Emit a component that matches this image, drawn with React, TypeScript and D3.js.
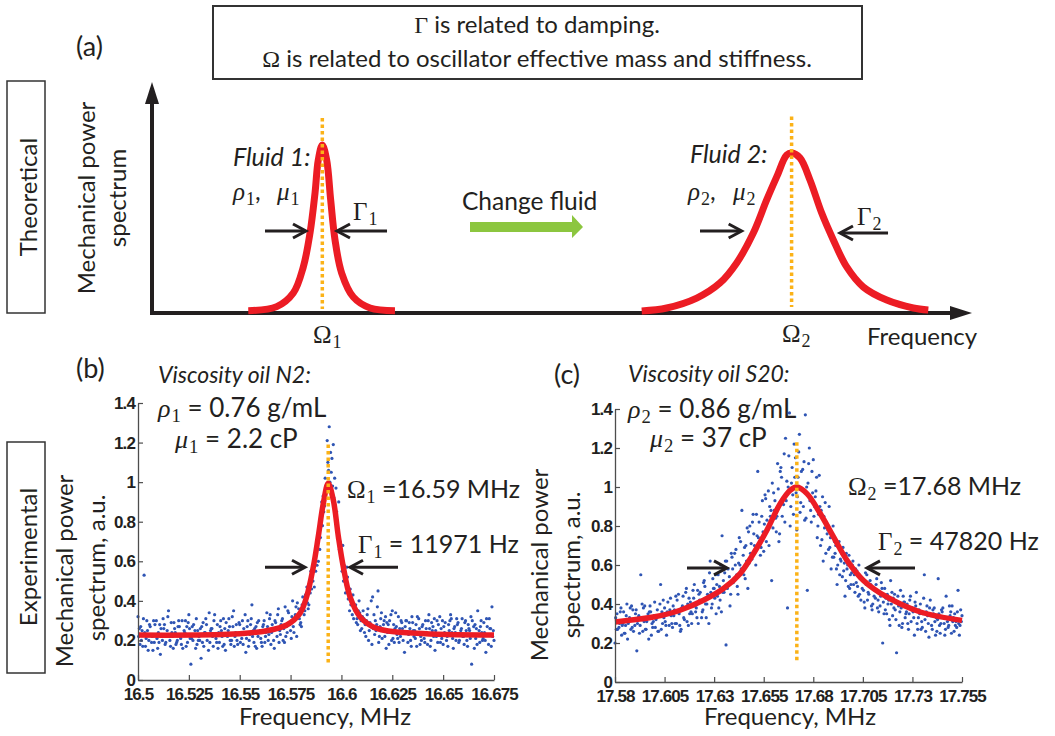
import React, { useEffect, useRef } from "react";
import * as d3 from "d3";

// schematic spectra for panel (a): [frequency (arb.), power (arb.)]
const fluid1Curve = [
  [11.74, 0.014], [15.21, 0.038], [17.23, 0.119], [18.45, 0.274], [19.27, 0.476],
  [19.88, 0.714], [20.28, 0.911], [20.77, 1.0], [21.3, 0.911], [21.79, 0.673],
  [22.32, 0.435], [23.13, 0.238], [24.55, 0.095], [26.59, 0.03], [29.63, 0.014],
];
const fluid2Curve = [
  [59.72, 0.012], [62.77, 0.03], [66.43, 0.089], [69.27, 0.179], [71.3, 0.298],
  [73.33, 0.476], [74.96, 0.673], [76.18, 0.81], [77.4, 0.94], [78.01, 0.952],
  [79.02, 0.923], [80.24, 0.792], [81.67, 0.595], [83.09, 0.435], [84.72, 0.274],
  [86.74, 0.155], [89.6, 0.077], [92.84, 0.03], [94.67, 0.018],
];
const fluid1Centre = 20.77;
const fluid2Centre = 78.0;

// lorentzian fits (b) and (c): [MHz, a.u.]
const fitN2 = [
  [16.5, 0.227], [16.5468, 0.232], [16.5633, 0.249], [16.5731, 0.278], [16.5796, 0.337],
  [16.5829, 0.421], [16.5862, 0.573], [16.5886, 0.724], [16.5911, 0.893], [16.5935, 0.994],
  [16.596, 0.91], [16.5985, 0.724], [16.6009, 0.573], [16.6042, 0.421], [16.6091, 0.32],
  [16.6173, 0.261], [16.637, 0.236], [16.675, 0.227],
];
const fitS20 = [
  [17.58, 0.308], [17.5993, 0.333], [17.6128, 0.368], [17.6246, 0.419], [17.6347, 0.479],
  [17.6431, 0.556], [17.6498, 0.658], [17.6566, 0.778], [17.6633, 0.915], [17.6683, 0.983],
  [17.6717, 1.0], [17.6768, 0.966], [17.6835, 0.864], [17.6902, 0.744], [17.697, 0.624],
  [17.7053, 0.521], [17.7171, 0.436], [17.734, 0.359], [17.755, 0.316],
];
const resonanceN2 = 16.5935;
const resonanceS20 = 17.6717;

// measured spectra, three interleaved sweeps, 1 kHz steps
const n2Start = 16.5;
const s20Start = 17.58;
const sweepStep = 0.001;
const sweepN2a = [
  0.32, 0.18, 0.25, 0.53, 0.21, 0.15, 0.27, 0.22, 0.19, 0.3,
  0.24, 0.13, 0.2, 0.28, 0.23, 0.35, 0.17, 0.22, 0.26, 0.19,
  0.3, 0.21, 0.16, 0.24, 0.27, 0.33, 0.08, 0.2, 0.25, 0.18,
  0.22, 0.11, 0.29, 0.24, 0.2, 0.34, 0.26, 0.17, 0.23, 0.28,
  0.19, 0.25, 0.31, 0.15, 0.22, 0.27, 0.2, 0.35, 0.24, 0.18,
  0.28, 0.21, 0.26, 0.14, 0.3, 0.23, 0.38, 0.19, 0.27, 0.22,
  0.25, 0.17, 0.3, 0.24, 0.2, 0.33, 0.28, 0.16, 0.26, 0.36,
  0.23, 0.31, 0.19, 0.27, 0.34, 0.25, 0.4, 0.3, 0.22, 0.36,
  0.29, 0.42, 0.35, 0.47, 0.38, 0.55, 0.5, 0.62, 0.58, 0.75,
  0.82, 0.93, 1.02, 1.21, 1.28, 1.05, 1.19, 0.88, 0.8, 0.66,
  0.62, 0.5, 0.44, 0.52, 0.35, 0.4, 0.31, 0.38, 0.28, 0.34,
  0.26, 0.31, 0.22, 0.36, 0.29, 0.18, 0.33, 0.25, 0.45, 0.27,
  0.21, 0.3, 0.16, 0.28, 0.24, 0.35, 0.19, 0.27, 0.32, 0.22,
  0.26, 0.14, 0.3, 0.23, 0.2, 0.29, 0.25, 0.17, 0.31, 0.22,
  0.28, 0.19, 0.24, 0.33, 0.2, 0.27, 0.15, 0.3, 0.23, 0.26,
  0.18, 0.29, 0.22, 0.25, 0.31, 0.16, 0.24, 0.28, 0.2, 0.26,
  0.22, 0.3, 0.17, 0.25, 0.08, 0.27, 0.21, 0.35, 0.19, 0.24,
  0.29, 0.14, 0.23, 0.26, 0.37, 0.2,
];
const sweepN2b = [
  0.22, 0.27, 0.17, 0.24, 0.3, 0.2, 0.23, 0.15, 0.28, 0.21,
  0.19, 0.26, 0.31, 0.18, 0.25, 0.22, 0.29, 0.16, 0.24, 0.2,
  0.27, 0.18, 0.23, 0.3, 0.19, 0.26, 0.21, 0.28, 0.16, 0.25,
  0.2, 0.27, 0.17, 0.31, 0.23, 0.19, 0.26, 0.3, 0.21, 0.16,
  0.27, 0.22, 0.18, 0.29, 0.25, 0.2, 0.32, 0.17, 0.28, 0.23,
  0.19, 0.3, 0.24, 0.21, 0.17, 0.28, 0.22, 0.26, 0.16, 0.3,
  0.21, 0.27, 0.19, 0.34, 0.23, 0.18, 0.25, 0.3, 0.22, 0.19,
  0.28, 0.2, 0.37, 0.24, 0.29, 0.21, 0.27, 0.33, 0.39, 0.31,
  0.27, 0.36, 0.43, 0.39, 0.5, 0.46, 0.6, 0.55, 0.7, 0.66,
  0.9, 0.85, 0.98, 1.1, 1.0, 1.12, 0.92, 0.97, 0.72, 0.7,
  0.55, 0.58, 0.48, 0.41, 0.46, 0.33, 0.37, 0.29, 0.35, 0.25,
  0.32, 0.24, 0.3, 0.2, 0.27, 0.42, 0.23, 0.28, 0.19, 0.31,
  0.25, 0.22, 0.29, 0.18, 0.33, 0.21, 0.26, 0.23, 0.19, 0.3,
  0.2, 0.27, 0.24, 0.29, 0.17, 0.25, 0.21, 0.32, 0.26, 0.2,
  0.23, 0.3, 0.18, 0.26, 0.29, 0.22, 0.25, 0.19, 0.32, 0.21,
  0.27, 0.23, 0.17, 0.3, 0.24, 0.26, 0.2, 0.29, 0.23, 0.31,
  0.18, 0.25, 0.28, 0.21, 0.3, 0.16, 0.26, 0.23, 0.27, 0.2,
  0.24, 0.31, 0.18, 0.26, 0.22, 0.15,
];
const sweepN2c = [
  0.26, 0.2, 0.31, 0.17, 0.25, 0.28, 0.19, 0.3, 0.23, 0.16,
  0.28, 0.22, 0.26, 0.19, 0.32, 0.2, 0.24, 0.29, 0.18, 0.27,
  0.22, 0.3, 0.25, 0.17, 0.29, 0.21, 0.27, 0.23, 0.31, 0.2,
  0.26, 0.19, 0.24, 0.28, 0.15, 0.25, 0.22, 0.33, 0.19, 0.24,
  0.3, 0.17, 0.26, 0.23, 0.31, 0.18, 0.27, 0.22, 0.2, 0.29,
  0.24, 0.18, 0.33, 0.27, 0.2, 0.31, 0.25, 0.17, 0.29, 0.24,
  0.19, 0.28, 0.22, 0.27, 0.31, 0.24, 0.2, 0.29, 0.33, 0.25,
  0.3, 0.26, 0.22, 0.35, 0.28, 0.32, 0.24, 0.37, 0.33, 0.28,
  0.38, 0.33, 0.4, 0.36, 0.44, 0.52, 0.47, 0.66, 0.6, 0.72,
  0.78, 0.88, 0.95, 1.06, 1.15, 0.98, 1.02, 0.85, 0.9, 0.62,
  0.68, 0.54, 0.57, 0.45, 0.38, 0.43, 0.35, 0.31, 0.4, 0.3,
  0.35, 0.28, 0.33, 0.25, 0.4, 0.26, 0.3, 0.37, 0.22, 0.34,
  0.28, 0.32, 0.24, 0.3, 0.2, 0.28, 0.34, 0.21, 0.26, 0.29,
  0.24, 0.3, 0.19, 0.26, 0.32, 0.22, 0.28, 0.24, 0.18, 0.27,
  0.21, 0.26, 0.3, 0.17, 0.25, 0.31, 0.22, 0.28, 0.19, 0.3,
  0.24, 0.2, 0.28, 0.33, 0.21, 0.27, 0.31, 0.19, 0.25, 0.22,
  0.29, 0.2, 0.26, 0.32, 0.23, 0.28, 0.18, 0.25, 0.3, 0.21,
  0.2, 0.27, 0.31, 0.17, 0.25, 0.28,
];
const sweepS20a = [
  0.2, 0.35, 0.28, 0.38, 0.3, 0.25, 0.4, 0.32, 0.27, 0.37,
  0.29, 0.16, 0.34, 0.55, 0.26, 0.39, 0.31, 0.22, 0.36, 0.28,
  0.41, 0.33, 0.26, 0.5, 0.3, 0.38, 0.24, 0.35, 0.43, 0.28,
  0.37, 0.3, 0.45, 0.26, 0.39, 0.32, 0.48, 0.29, 0.41, 0.35,
  0.5, 0.38, 0.3, 0.46, 0.36, 0.52, 0.33, 0.44, 0.62, 0.4,
  0.48, 0.35, 0.55, 0.42, 0.75, 0.46, 0.19, 0.58, 0.39, 0.64,
  0.52, 0.68, 0.45, 0.6, 0.88, 0.55, 0.7, 0.48, 0.8, 0.63,
  0.76, 0.6, 1.08, 0.72, 0.85, 0.67, 0.94, 0.78, 0.9, 0.52,
  0.97, 0.84, 1.12, 0.76, 1.05, 0.91, 1.25, 0.38, 1.38, 1.02,
  0.86, 1.15, 0.95, 1.27, 1.08, 0.9, 1.37, 0.47, 1.2, 0.82,
  1.14, 0.95, 0.74, 1.06, 0.88, 0.62, 0.92, 0.76, 0.9, 0.58,
  0.8, 0.66, 0.5, 0.72, 0.62, 0.69, 0.44, 0.58, 0.65, 0.5,
  0.62, 0.46, 0.57, 0.6, 0.42, 0.52, 0.38, 0.55, 0.45, 0.5,
  0.4, 0.47, 0.53, 0.36, 0.44, 0.2, 0.48, 0.35, 0.42, 0.52,
  0.34, 0.45, 0.15, 0.39, 0.47, 0.3, 0.41, 0.36, 0.27, 0.44,
  0.38, 0.24, 0.46, 0.33, 0.4, 0.28, 0.55, 0.36, 0.3, 0.42,
  0.27, 0.38, 0.33, 0.53, 0.25, 0.36, 0.3, 0.44, 0.28, 0.34,
  0.39, 0.26, 0.31, 0.47, 0.29, 0.34,
];
const sweepS20b = [
  0.33, 0.27, 0.3, 0.24, 0.36, 0.29, 0.22, 0.33, 0.39, 0.26,
  0.35, 0.3, 0.25, 0.32, 0.38, 0.27, 0.33, 0.36, 0.24, 0.31,
  0.28, 0.37, 0.34, 0.27, 0.42, 0.31, 0.36, 0.29, 0.34, 0.39,
  0.3, 0.42, 0.35, 0.27, 0.44, 0.38, 0.31, 0.43, 0.36, 0.47,
  0.39, 0.33, 0.45, 0.41, 0.37, 0.49, 0.4, 0.3, 0.46, 0.53,
  0.43, 0.5, 0.38, 0.6, 0.46, 0.56, 0.62, 0.5, 0.45, 0.58,
  0.66, 0.55, 0.61, 0.72, 0.57, 0.69, 0.62, 0.77, 0.66, 0.82,
  0.7, 0.86, 0.74, 0.65, 0.93, 0.81, 0.72, 0.98, 0.85, 1.02,
  0.88, 0.77, 0.99, 1.08, 0.85, 1.17, 0.93, 1.0, 0.8, 1.1,
  1.22, 0.97, 1.05, 0.87, 0.99, 1.13, 0.84, 1.02, 0.93, 1.08,
  0.85, 0.98, 0.8, 0.9, 0.73, 0.85, 0.66, 0.78, 0.69, 0.75,
  0.64, 0.7, 0.6, 0.55, 0.66, 0.57, 0.52, 0.6, 0.48, 0.56,
  0.5, 0.58, 0.49, 0.45, 0.53, 0.47, 0.56, 0.42, 0.5, 0.39,
  0.48, 0.43, 0.38, 0.46, 0.51, 0.41, 0.37, 0.45, 0.32, 0.4,
  0.43, 0.37, 0.41, 0.29, 0.38, 0.44, 0.33, 0.4, 0.35, 0.31,
  0.36, 0.41, 0.3, 0.37, 0.27, 0.35, 0.32, 0.39, 0.23, 0.34,
  0.37, 0.31, 0.26, 0.35, 0.3, 0.38, 0.24, 0.33, 0.29, 0.36,
  0.31, 0.35, 0.28, 0.3, 0.37, 0.33,
];
const sweepS20c = [
  0.27, 0.31, 0.36, 0.29, 0.25, 0.34, 0.3, 0.38, 0.28, 0.32,
  0.37, 0.33, 0.29, 0.4, 0.31, 0.27, 0.35, 0.39, 0.3, 0.34,
  0.32, 0.26, 0.4, 0.36, 0.33, 0.29, 0.41, 0.37, 0.3, 0.34,
  0.44, 0.36, 0.29, 0.38, 0.33, 0.46, 0.4, 0.35, 0.3, 0.43,
  0.36, 0.47, 0.42, 0.33, 0.51, 0.4, 0.45, 0.56, 0.38, 0.48,
  0.55, 0.44, 0.49, 0.36, 0.52, 0.62, 0.48, 0.54, 0.66, 0.51,
  0.6, 0.49, 0.74, 0.58, 0.65, 0.53, 0.79, 0.61, 0.71, 0.86,
  0.67, 0.75, 0.82, 0.69, 0.77, 0.96, 0.83, 0.7, 0.88, 0.79,
  0.93, 0.85, 0.72, 1.1, 0.94, 0.82, 1.03, 1.16, 0.9, 0.96,
  1.05, 0.78, 1.18, 0.92, 1.09, 0.83, 1.0, 1.12, 0.88, 0.97,
  0.9, 1.05, 0.86, 0.7, 0.95, 0.79, 0.82, 0.68, 0.74, 0.64,
  0.72, 0.58, 0.69, 0.63, 0.54, 0.61, 0.66, 0.49, 0.55, 0.6,
  0.55, 0.51, 0.44, 0.53, 0.48, 0.41, 0.5, 0.46, 0.52, 0.37,
  0.44, 0.5, 0.42, 0.39, 0.48, 0.35, 0.43, 0.4, 0.29, 0.46,
  0.38, 0.32, 0.44, 0.36, 0.28, 0.41, 0.35, 0.3, 0.42, 0.37,
  0.33, 0.39, 0.27, 0.35, 0.31, 0.43, 0.26, 0.34, 0.38, 0.29,
  0.35, 0.24, 0.32, 0.29, 0.37, 0.33, 0.27, 0.31, 0.39, 0.25,
  0.33, 0.29, 0.36, 0.24, 0.31, 0.28,
];

const ticksN2 = [16.5, 16.525, 16.55, 16.575, 16.6, 16.625, 16.65, 16.675];
const ticksS20 = [17.58, 17.605, 17.63, 17.655, 17.68, 17.705, 17.73, 17.755];
const powerTicks = [0, 0.2, 0.4, 0.6, 0.8, 1, 1.2, 1.4];

const SANS = "Lato, 'Open Sans', sans-serif";
const MATH = "'Liberation Serif', 'DejaVu Serif', serif";
const TICK = "'Liberation Sans', Arial, sans-serif";
const RED = "#ec1c24";
const ORANGE = "#fbb217";
const DOT = "#2f55b4";
const INK = "#231f20";

// panel scales
const xA = d3.scaleLinear().domain([0, 100]).range([152, 972]);
const yA = d3.scaleLinear().domain([0, 1]).range([313, 145]);
const xB = d3.scaleLinear().domain([16.5, 16.675]).range([138, 494]);
const yB = d3.scaleLinear().domain([0, 1.4]).range([680, 403]);
const xC = d3.scaleLinear().domain([17.58, 17.755]).range([615, 962]);
const yC = d3.scaleLinear().domain([0, 1.4]).range([682, 409]);

function sweepPoints(start, sweeps, domain) {
  const pts = [];
  sweeps.forEach((s, k) => {
    s.forEach((v, i) => pts.push([start + i * sweepStep + (k * sweepStep) / sweeps.length, v]));
  });
  return pts.filter((p) => p[0] <= domain[1] + 1e-9);
}

function Axes({ x, y, ticks }) {
  const gx = useRef(null);
  const gy = useRef(null);
  useEffect(() => {
    const bottom = d3.select(gx.current);
    bottom.selectAll("*").remove();
    bottom.call(
      d3.axisBottom(x).tickValues(ticks).tickSizeInner(-5).tickSizeOuter(0)
        .tickPadding(8).tickFormat(d3.format("~g"))
    );
    const left = d3.select(gy.current);
    left.selectAll("*").remove();
    left.call(
      d3.axisLeft(y).tickValues(powerTicks).tickSizeInner(-5).tickSizeOuter(0)
        .tickPadding(3).tickFormat(d3.format("~g"))
    );
    [bottom, left].forEach((g) => {
      g.select(".domain").attr("stroke", "#4d4d4d").attr("stroke-width", 1.3);
      g.selectAll(".tick line").attr("stroke", "#4d4d4d").attr("stroke-width", 1.2);
      g.selectAll("text")
        .attr("font-family", TICK)
        .attr("font-weight", "bold")
        .attr("font-size", 17)
        .attr("letter-spacing", -0.9)
        .attr("fill", INK);
    });
  }, [x, y, ticks]);
  return (
    <g>
      <g ref={gx} transform={`translate(0,${y.range()[0]})`} />
      <g ref={gy} transform={`translate(${x.range()[0]},0)`} />
    </g>
  );
}

function Sym({ x, y, size, ch, sub, italic = false, rest = "", family = SANS }) {
  const d = size * 0.2;
  return (
    <text x={x} y={y} fontSize={size} fontFamily={family} fill={INK}>
      <tspan fontFamily={MATH} fontStyle={italic ? "italic" : "normal"}>{ch}</tspan>
      <tspan fontFamily={MATH} fontSize={size * 0.72} dy={d} dx={1}>{sub}</tspan>
      {rest ? <tspan dy={-d}>{rest}</tspan> : null}
    </text>
  );
}

function SmallArrow({ x1, x2, y }) {
  const dir = x2 > x1 ? 1 : -1;
  const head = `M${x2 - dir * 13},${y - 7} L${x2},${y} L${x2 - dir * 13},${y + 7}`;
  return (
    <g stroke={INK} fill="none" strokeWidth={3}>
      <line x1={x1} x2={x2 - dir * 2} y1={y} y2={y} />
      <path d={head} strokeLinejoin="miter" />
    </g>
  );
}

function RotLabel({ x, y, size, children }) {
  return (
    <text transform={`translate(${x},${y}) rotate(-90)`} textAnchor="middle"
      fontSize={size} fontFamily={SANS} fill={INK}>{children}</text>
  );
}

export default function App() {
  const curveA = d3.line().x((d) => xA(d[0])).y((d) => yA(d[1])).curve(d3.curveCatmullRom.alpha(0.5));
  const curveB = d3.line().x((d) => xB(d[0])).y((d) => yB(d[1])).curve(d3.curveCatmullRom.alpha(0.5));
  const curveC = d3.line().x((d) => xC(d[0])).y((d) => yC(d[1])).curve(d3.curveCatmullRom.alpha(0.5));
  const ptsB = sweepPoints(n2Start, [sweepN2a, sweepN2b, sweepN2c], xB.domain());
  const ptsC = sweepPoints(s20Start, [sweepS20a, sweepS20b, sweepS20c], xC.domain());
  const axY = yA(0);
  const axX = xA(0);

  return (
    <svg width={1055} height={736} style={{ position: "absolute", left: 0, top: 0, background: "#fff" }}>
      {/* top note */}
      <rect x={213} y={6} width={649} height={73} fill="none" stroke="#333" strokeWidth={2} />
      <text x={537} y={33} textAnchor="middle" fontSize={24} fontFamily={SANS} fill={INK}>
        <tspan fontFamily={MATH}>Γ</tspan> is related to damping.
      </text>
      <text x={537} y={67} textAnchor="middle" fontSize={24} fontFamily={SANS} fill={INK}>
        <tspan fontFamily={MATH}>Ω</tspan> is related to oscillator effective mass and stiffness.
      </text>

      {/* row labels */}
      <rect x={7} y={81} width={38} height={232} fill="none" stroke="#333" strokeWidth={1.5} />
      <RotLabel x={37} y={197} size={24}>Theoretical</RotLabel>
      <rect x={7} y={442} width={38} height={231} fill="none" stroke="#333" strokeWidth={1.5} />
      <RotLabel x={37} y={557} size={24}>Experimental</RotLabel>

      {/* panel (a) */}
      <text x={76} y={56} fontSize={27} fontFamily={SANS} fill={INK}>(a)</text>
      <RotLabel x={95} y={198} size={24}>Mechanical power</RotLabel>
      <RotLabel x={126} y={198} size={24}>spectrum</RotLabel>
      <g stroke={INK} strokeWidth={4}>
        <line x1={axX} x2={axX} y1={axY + 2} y2={100} />
        <line x1={axX - 2} x2={955} y1={axY} y2={axY} />
      </g>
      <polygon points={`${axX},82 ${axX - 7},104 ${axX + 7},104`} fill={INK} />
      <polygon points={`972,${axY} 950,${axY - 7} 950,${axY + 7}`} fill={INK} />
      <path d={curveA(fluid1Curve)} fill="none" stroke={RED} strokeWidth={7} />
      <path d={curveA(fluid2Curve)} fill="none" stroke={RED} strokeWidth={7} />
      <line x1={xA(fluid1Centre)} x2={xA(fluid1Centre)} y1={yA(1.16)} y2={yA(0.024)}
        stroke={ORANGE} strokeWidth={3.5} strokeDasharray="3.5,3" />
      <line x1={xA(fluid2Centre)} x2={xA(fluid2Centre)} y1={yA(1.17)} y2={yA(0.036)}
        stroke={ORANGE} strokeWidth={3.5} strokeDasharray="3.5,3" />
      <text x={233} y={166} fontSize={25} fontFamily={SANS} fontStyle="italic" fill={INK}>Fluid 1:</text>
      <Sym x={233} y={200} size={25} ch="ρ" sub="1" italic rest="," />
      <Sym x={277} y={200} size={25} ch="μ" sub="1" italic />
      <Sym x={353} y={220} size={25} ch="Γ" sub="1" />
      <SmallArrow x1={xA(13.78)} x2={xA(18.78)} y={yA(0.488)} />
      <SmallArrow x1={xA(28.66)} x2={xA(22.56)} y={yA(0.488)} />
      <Sym x={313} y={343} size={25} ch="Ω" sub="1" />
      <text x={462} y={210} fontSize={24.5} fontFamily={SANS} fill={INK}>Change fluid</text>
      <polygon points="470,222 572,222 572,215 583,227 572,238 572,232 470,232" fill="#8cc63f" />
      <text x={690} y={163} fontSize={25} fontFamily={SANS} fontStyle="italic" fill={INK}>Fluid 2:</text>
      <Sym x={688} y={200} size={25} ch="ρ" sub="2" italic rest="," />
      <Sym x={733} y={200} size={25} ch="μ" sub="2" italic />
      <Sym x={857} y={225} size={25} ch="Γ" sub="2" />
      <SmallArrow x1={xA(66.83)} x2={xA(71.91)} y={yA(0.488)} />
      <SmallArrow x1={xA(89.76)} x2={xA(83.9)} y={yA(0.476)} />
      <Sym x={782} y={342} size={25} ch="Ω" sub="2" />
      <text x={867} y={345} fontSize={24} fontFamily={SANS} fill={INK}>Frequency</text>

      {/* panel (b) */}
      <text x={76} y={378} fontSize={27} fontFamily={SANS} fill={INK}>(b)</text>
      <RotLabel x={73} y={571} size={24}>Mechanical power</RotLabel>
      <RotLabel x={105} y={568} size={24}>spectrum, a.u.</RotLabel>
      <g fill={DOT}>
        {ptsB.map((p, i) => <circle key={i} cx={xB(p[0])} cy={yB(p[1])} r={1.6} />)}
      </g>
      <path d={curveB(fitN2)} fill="none" stroke={RED} strokeWidth={5.5} />
      <line x1={xB(resonanceN2)} x2={xB(resonanceN2)} y1={yB(1.19)} y2={yB(0.086)}
        stroke={ORANGE} strokeWidth={3.5} strokeDasharray="3.5,3" />
      <Axes x={xB} y={yB} ticks={ticksN2} />
      <text x={158} y={383} fontSize={23} fontFamily={SANS} fontStyle="italic" fill={INK}>Viscosity oil N2:</text>
      <Sym x={158} y={417} size={26} ch="ρ" sub="1" italic rest=" = 0.76 g/mL" />
      <Sym x={175} y={448} size={26} ch="μ" sub="1" italic rest=" = 2.2 cP" />
      <Sym x={347} y={498} size={25} ch="Ω" sub="1" rest=" =16.59 MHz" />
      <Sym x={358} y={553} size={25} ch="Γ" sub="1" rest=" = 11971 Hz" />
      <SmallArrow x1={265} x2={305} y={yB(0.57)} />
      <SmallArrow x1={398} x2={350} y={yB(0.57)} />
      <text x={325} y={725} textAnchor="middle" fontSize={24} fontFamily={SANS} fill={INK}>Frequency, MHz</text>

      {/* panel (c) */}
      <text x={554} y={384} fontSize={27} fontFamily={SANS} fill={INK}>(c)</text>
      <RotLabel x={548} y={565} size={24}>Mechanical power</RotLabel>
      <RotLabel x={580} y={565} size={24}>spectrum, a.u.</RotLabel>
      <g fill={DOT}>
        {ptsC.map((p, i) => <circle key={i} cx={xC(p[0])} cy={yC(p[1])} r={1.6} />)}
      </g>
      <path d={curveC(fitS20)} fill="none" stroke={RED} strokeWidth={5.5} />
      <line x1={xC(resonanceS20)} x2={xC(resonanceS20)} y1={yC(1.23)} y2={yC(0.11)}
        stroke={ORANGE} strokeWidth={3.5} strokeDasharray="3.5,3" />
      <Axes x={xC} y={yC} ticks={ticksS20} />
      <text x={628} y={382} fontSize={23} fontFamily={SANS} fontStyle="italic" fill={INK}>Viscosity oil S20:</text>
      <Sym x={628} y={418} size={26} ch="ρ" sub="2" italic rest=" = 0.86 g/mL" />
      <Sym x={650} y={447} size={26} ch="μ" sub="2" italic rest=" = 37 cP" />
      <Sym x={848} y={495} size={25} ch="Ω" sub="2" rest=" =17.68 MHz" />
      <Sym x={878} y={550} size={25} ch="Γ" sub="2" rest=" = 47820 Hz" />
      <SmallArrow x1={687} x2={727} y={yC(0.585)} />
      <SmallArrow x1={915} x2={867} y={yC(0.585)} />
      <text x={790} y={725} textAnchor="middle" fontSize={24} fontFamily={SANS} fill={INK}>Frequency, MHz</text>
    </svg>
  );
}
